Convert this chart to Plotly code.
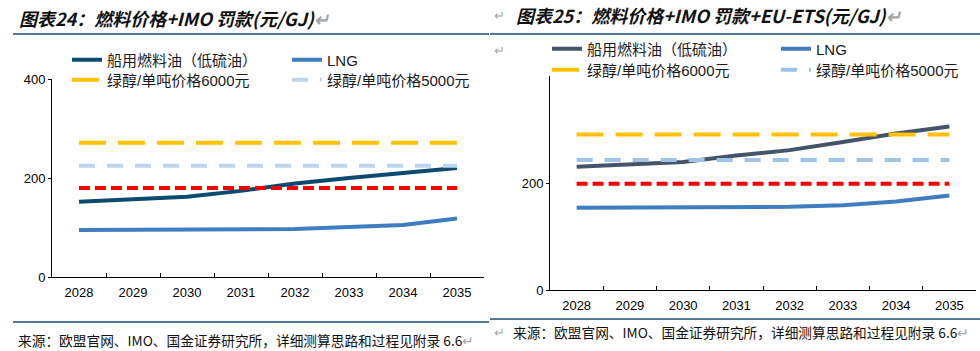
import plotly.graph_objects as go

years = ["2028", "2029", "2030", "2031", "2032", "2033", "2034", "2035"]

# 图表24
fuel_left = [152, 157, 162, 174, 189, 200, 209, 220]
lng_left = [95, 95, 95, 95, 97, 101, 105, 118]
meth6000_left = [271] * 8
meth5000_left = [225] * 8
red_left = [180] * 8

# 图表25
fuel_right = [231, 235, 240, 252, 262, 277, 293, 306]
lng_right = [154.5, 154.5, 154.5, 154.5, 156, 159, 166, 177]
meth6000_right = [291] * 8
meth5000_right = [243.5] * 8
red_right = [199] * 8

names = ["船用燃料油（低硫油）", "LNG", "绿醇/单吨价格6000元", "绿醇/单吨价格5000元"]

W, H = 980, 351
def px(x):
    return x / W
def py(y):
    return 1 - y / H

fig = go.Figure()

def add_panel(xa, ya, fuel, lng, m6, m5, red, fuel_color, m5_color, lgs):
    fig.add_trace(go.Scatter(x=years, y=fuel, mode="lines", name=names[0],
                             line=dict(color=fuel_color, width=4),
                             xaxis=xa, yaxis=ya, legend=lgs[0]))
    fig.add_trace(go.Scatter(x=years, y=lng, mode="lines", name=names[1],
                             line=dict(color="#3F7DC1", width=4),
                             xaxis=xa, yaxis=ya, legend=lgs[1]))
    fig.add_trace(go.Scatter(x=years, y=m6, mode="lines", name=names[2],
                             line=dict(color="#FFC000", width=4, dash="27px,12px"),
                             xaxis=xa, yaxis=ya, legend=lgs[2]))
    fig.add_trace(go.Scatter(x=years, y=m5, mode="lines", name=names[3],
                             line=dict(color=m5_color, width=4, dash="16px,12px"),
                             xaxis=xa, yaxis=ya, legend=lgs[3]))
    fig.add_trace(go.Scatter(x=years, y=red, mode="lines", showlegend=False,
                             line=dict(color="#FF0000", width=4, dash="11px,5px"),
                             xaxis=xa, yaxis=ya))

add_panel("x", "y", fuel_left, lng_left, meth6000_left, meth5000_left, red_left,
          "#0D4A70", "#BDD7EE", ["legend", "legend2", "legend3", "legend4"])
add_panel("x2", "y2", fuel_right, lng_right, meth6000_right, meth5000_right, red_right,
          "#44546A", "#9DC3E6", ["legend5", "legend6", "legend7", "legend8"])

tickfont = dict(family="Liberation Sans, Arial, sans-serif", size=13, color="#000000")
xcommon = dict(type="category", range=[-0.5, 7.5], showline=True, linecolor="#000000",
               linewidth=1, ticks="inside", ticklen=4, tickcolor="#000000",
               tickson="boundaries", showgrid=False, zeroline=False, tickfont=tickfont,
               fixedrange=True, automargin=False, ticklabelstandoff=3)
ycommon = dict(range=[0, 400], showline=True, linecolor="#000000", linewidth=1,
               ticks="outside", ticklen=3, tickcolor="#000000", showgrid=False,
               zeroline=False, tickfont=tickfont, fixedrange=True, automargin=False)

legfont = dict(family="Liberation Sans, Noto Sans CJK SC, sans-serif", size=15, color="#1a1a1a")
def leg(text_x, yc):
    return dict(x=px(text_x - 40), y=py(yc), xanchor="left", yanchor="middle",
                bgcolor="rgba(255,255,255,0)", borderwidth=0, font=legfont,
                orientation="v", tracegroupgap=0)

fig.update_layout(
    width=W, height=H,
    margin=dict(l=0, r=0, t=0, b=0, autoexpand=False),
    paper_bgcolor="white", plot_bgcolor="white",
    xaxis=dict(domain=[px(52), px(484)], anchor="y", **xcommon),
    yaxis=dict(domain=[1 - 277 / H, 1 - 79 / H], anchor="x",
               tickvals=[0, 200, 400], **ycommon),
    xaxis2=dict(domain=[px(550), px(976)], anchor="y2", **xcommon),
    yaxis2=dict(domain=[1 - 290.3 / H, 1 - 76.3 / H], anchor="x2",
                tickvals=[0, 200], **ycommon),
    legend=leg(107, 60),
    legend2=leg(327, 60),
    legend3=leg(107, 80),
    legend4=leg(327, 80),
    legend5=leg(587, 49),
    legend6=leg(816, 49),
    legend7=leg(587, 70),
    legend8=leg(816, 70),
    showlegend=True,
)

titlefont = dict(family="Noto Sans CJK SC, sans-serif", size=18, color="#111111",
                 weight="bold", style="italic")
srcfont = dict(family="Noto Sans CJK SC, sans-serif", size=13.7, color="#111111")
grey = "#A6A6A6"
ann = [
    dict(text="图表24：燃料价格+IMO 罚款(元/GJ)<span style='color:%s'>↵</span>" % grey,
         x=px(17), y=py(18), xanchor="left", yanchor="middle", font=titlefont),
    dict(text="图表25：燃料价格+IMO 罚款+EU-ETS(元/GJ)<span style='color:%s'>↵</span>" % grey,
         x=px(514), y=py(15), xanchor="left", yanchor="middle", font=titlefont),
    dict(text="↵", x=px(492), y=py(15), xanchor="left", yanchor="middle",
         font=dict(size=13, color=grey)),
    dict(text="↵", x=px(492), y=py(50), xanchor="left", yanchor="middle",
         font=dict(size=13, color=grey)),
    dict(text="来源：欧盟官网、IMO、国金证券研究所，详细测算思路和过程见附录 6.6<span style='color:%s'>↵</span>" % grey,
         x=px(16), y=py(340), xanchor="left", yanchor="middle", font=srcfont),
    dict(text="↵", x=px(492), y=py(332), xanchor="left", yanchor="middle",
         font=dict(size=13, color=grey)),
    dict(text="来源：欧盟官网、IMO、国金证券研究所，详细测算思路和过程见附录 6.6<span style='color:%s'>↵</span>" % grey,
         x=px(511), y=py(332), xanchor="left", yanchor="middle", font=srcfont),
]
for a in ann:
    a.update(xref="paper", yref="paper", showarrow=False)
fig.update_layout(annotations=ann)

rule = "#1B4F72"
shapes = [
    dict(type="line", x0=px(13), x1=px(489), y0=py(34), y1=py(34)),
    dict(type="line", x0=px(490), x1=px(980), y0=py(34), y1=py(34)),
    dict(type="line", x0=px(13), x1=px(489), y0=py(322), y1=py(322)),
    dict(type="line", x0=px(490), x1=px(980), y0=py(319), y1=py(319)),
]
for s in shapes:
    s.update(xref="paper", yref="paper", line=dict(color=rule, width=1.5))
fig.update_layout(shapes=shapes)

fig.write_html("out.html")
